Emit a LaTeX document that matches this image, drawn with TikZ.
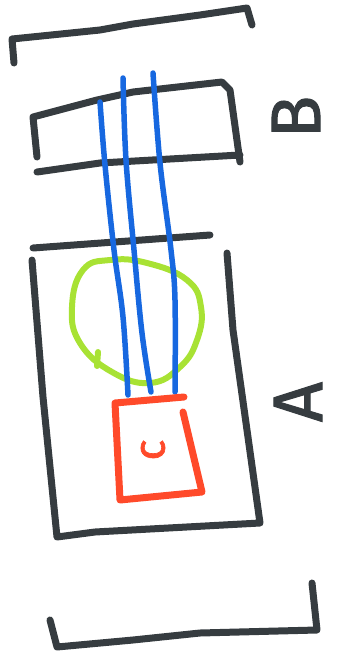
\documentclass[tikz,border=0pt]{standalone}
\usepackage{fontspec}
\setmainfont{Fira Sans}
\newfontfamily\handfont[FakeBold=1.5]{Fira Sans}
\definecolor{marker}{HTML}{363C40}
\definecolor{wireblue}{HTML}{1768E0}
\definecolor{blobgreen}{HTML}{A8E234}
\definecolor{boxred}{HTML}{FF4A2A}
\begin{document}
\begin{tikzpicture}[x=1pt, y=-1pt,
        pen/.style={line width=7pt, marker, line cap=round, line join=round},
        wire/.style={line width=5.5pt, wireblue, line cap=round},
        letter/.style={rotate=90, inner sep=0pt, text=marker, font=\handfont\fontsize{70}{70}\selectfont}]
        \useasboundingbox (0,0) rectangle (342,665);
        
        % Outer brackets
        \draw[pen] (14,63) -- (12,39) -- (100,30) -- (133,24) -- (200,15) -- (247,8) -- (252,25);
        \draw[pen] (50,620) -- (57,647) -- (133,640) -- (200,633) -- (317,630) -- (312,583);
        
        % Part B
        \draw[pen] (37,157) -- (33,117) -- (97,100) -- (133,92) -- (222,82) -- (230,90) -- (240,162);
        \draw[pen] (37,172) -- (100,163) -- (240,155);
        \node[letter] (labelB) at (296,117) {B};
        
        % Part A
        \draw[pen] (33,248) -- (210,235);
        \draw[pen] (32,260) -- (43,397) -- (57,537) -- (95,532) -- (260,523) -- (233,330) -- (227,253);
        \node[letter] (labelA) at (298,402) {A};
        
        % Green loop
        \draw[line width=6pt, blobgreen, line cap=round] plot[smooth cycle, tension=0.75] coordinates {
            (72,307) (83,270) (110,260) (147,263) (187,280) (201,307) (197,340)
            (180,367) (150,383) (112,372) (80,343)};
        \draw[line width=6pt, blobgreen, line cap=round] (98,352) -- (97,366);
        
        % Wires
        \draw[wire] plot[smooth, tension=0.6] coordinates {(100,102) (105,165) (114,250) (123,317) (128,395)};
        \draw[wire] plot[smooth, tension=0.6] coordinates {(123,78) (126,160) (134,250) (142,333) (151,392)};
        \draw[wire] plot[smooth, tension=0.6] coordinates {(153,73) (160,163) (171,250) (175,300) (175,392)};
        
        % Part C
        \draw[line width=7pt, boxred, line cap=round, line join=round]
            (183,412) -- (202,492) -- (120,500) -- (115,403) -- (184,397);
        \node[rotate=90, inner sep=0pt, text=boxred, font=\handfont\fontsize{44}{44}\selectfont] (labelC) at (153,450) {c};
\end{tikzpicture}
\end{document}
